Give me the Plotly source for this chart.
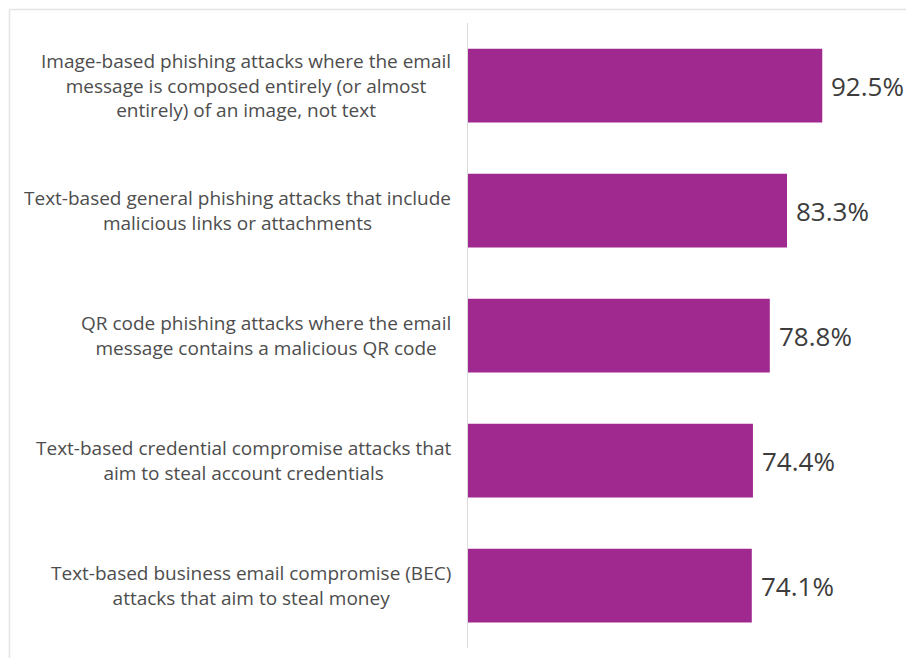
import plotly.graph_objects as go

categories = [
    "Image-based phishing attacks where the email<br>message is composed entirely (or almost<br>entirely) of an image, not text",
    "Text-based general phishing attacks that include<br>malicious links or attachments",
    "QR code phishing attacks where the email<br>message contains a malicious QR code",
    "Text-based credential compromise attacks that<br>aim to steal account credentials",
    "Text-based business email compromise (BEC)<br>attacks that aim to steal money",
]
values = [92.5, 83.3, 78.8, 74.4, 74.1]

W, H = 906, 658
L, R, T, B = 468, 6, 23, 10
plot_w = W - L - R
plot_h = H - T - B
x_max = 112.8

BAR_COLOR = "#A0298F"
TEXT_COLOR = "#4d4d4d"
FONT = "Open Sans, Arial, sans-serif"

fig = go.Figure()
fig.add_trace(go.Bar(
    x=values,
    y=list(range(len(values))),
    orientation="h",
    marker=dict(color=BAR_COLOR, line=dict(width=0)),
    width=0.59,
    hoverinfo="skip",
))

# value labels just past the end of each bar
for i, v in enumerate(values):
    fig.add_annotation(
        x=v, xref="x", xanchor="left", xshift=7,
        y=i, yref="y", yanchor="middle",
        text=f"{v:.1f}%", showarrow=False,
        font=dict(size=26, color="#3c3c3c", family=FONT),
    )

# category labels, centred line by line, right-aligned to the axis
for i, c in enumerate(categories):
    fig.add_annotation(
        x=(453 - L) / plot_w, xref="paper", xanchor="right",
        y=i, yref="y", yanchor="middle",
        text=c, showarrow=False, align="center",
        font=dict(size=19, color=TEXT_COLOR, family=FONT),
    )

# thin frame along the top and left edges
def px_x(p):
    return (p - L) / plot_w

def px_y(p):
    return (H - B - p) / plot_h

frame = dict(color="#e4e4e4", width=1.5)
fig.add_shape(type="line", xref="paper", yref="paper",
              x0=px_x(9.5), x1=px_x(910), y0=px_y(9.5), y1=px_y(9.5), line=frame)
fig.add_shape(type="line", xref="paper", yref="paper",
              x0=px_x(9.5), x1=px_x(9.5), y0=px_y(9.5), y1=px_y(662), line=frame)

fig.update_layout(
    width=W, height=H,
    margin=dict(l=L, r=R, t=T, b=B, pad=0),
    paper_bgcolor="white", plot_bgcolor="white",
    showlegend=False,
    xaxis=dict(range=[0, x_max], visible=False, fixedrange=True),
    yaxis=dict(range=[4.5, -0.5], showticklabels=False, ticks="",
               showgrid=False, zeroline=False, showline=True,
               linecolor="#d9d9d9", linewidth=1, fixedrange=True),
)

fig.write_html("out.html")
